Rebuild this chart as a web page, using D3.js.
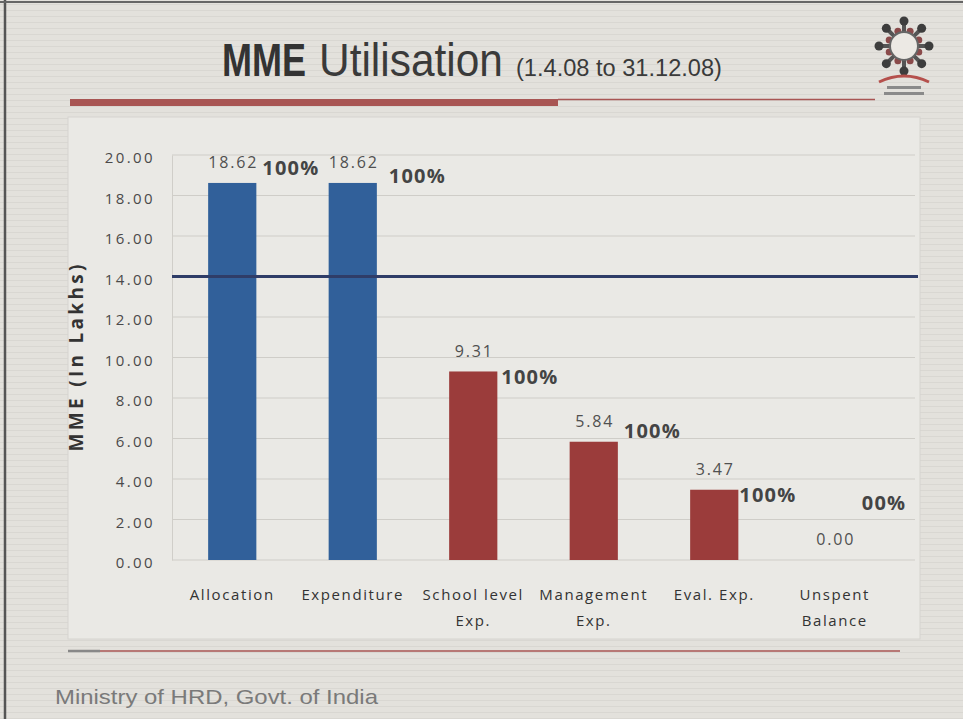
<!DOCTYPE html>
<html><head><meta charset="utf-8">
<script src="https://cdn.jsdelivr.net/npm/d3@7"></script>
<style>
body{margin:0;background:#e4e2dd;}
svg{display:block;}
</style></head>
<body>
<svg id="chart" width="963" height="719"></svg>
<script>
// ---- data ----
const categories = ["Allocation","Expenditure","School level Exp.","Management Exp.","Eval. Exp.","Unspent Balance"];
const categoryLines = [["Allocation"],["Expenditure"],["School level","Exp."],["Management","Exp."],["Eval. Exp."],["Unspent","Balance"]];
const values = [18.62, 18.62, 9.31, 5.84, 3.47, 0.00];
const pctLabels = ["100%","100%","100%","100%","100%","00%"];
const barGroup = ["budget","budget","spend","spend","spend","spend"];
const yTicks = [0,2,4,6,8,10,12,14,16,18,20];
const refLine = 14;
// manual nudges of the hand-placed % text boxes (px)
const pctNudgeX = [6,12,4,6,1,3];
const pctNudgeY = [-13,-5,7,-9,7,-55];

const W = 963, H = 719;
const svg = d3.select("#chart");

// background with scanline texture
const defs = svg.append("defs");
const pat = defs.append("pattern").attr("id","scan").attr("width",8).attr("height",6).attr("patternUnits","userSpaceOnUse");
pat.append("rect").attr("width",8).attr("height",6).attr("fill","#e3e1dc");
pat.append("rect").attr("y",4).attr("width",8).attr("height",1).attr("fill","#d9d7d2");
svg.append("rect").attr("width",W).attr("height",H).attr("fill","url(#scan)");
// slide borders
svg.append("line").attr("x1",5).attr("x2",5).attr("y1",0).attr("y2",H).attr("stroke","#555").attr("stroke-width",2.5);
svg.append("line").attr("x1",0).attr("x2",W).attr("y1",2).attr("y2",2).attr("stroke","#666").attr("stroke-width",2);

// chart panel
svg.append("rect").attr("x",68).attr("y",117).attr("width",852).attr("height",522)
  .attr("fill","#eae9e5").attr("stroke","#d6d4cf");

// title (condensed via horizontal scaling)
const tFont = "'Liberation Sans Narrow','Arial Narrow','Liberation Sans',Arial,sans-serif";
function condensed(txt, x0, w, size, weight, color){
  const t = svg.append("text").attr("x",0).attr("y",0).text(txt)
    .style("font-family",tFont).style("font-size",size+"px").style("font-weight",weight).attr("fill",color);
  const nat = t.node().getComputedTextLength();
  t.attr("transform",`translate(${x0},76) scale(${w/nat},1)`);
}
condensed("MME", 222, 84, 46, "bold", "#333");
condensed("Utilisation", 319, 184, 46, "normal", "#3a3a3a");
condensed("(1.4.08 to 31.12.08)", 516, 206, 23, "normal", "#3a3a3a");

// decorative lines
svg.append("rect").attr("x",70).attr("y",99).attr("width",488).attr("height",7).attr("fill","#a85553");
svg.append("line").attr("x1",558).attr("x2",875).attr("y1",99.5).attr("y2",99.5).attr("stroke","#a85553").attr("stroke-width",1.5);
svg.append("line").attr("x1",68).attr("x2",900).attr("y1",651).attr("y2",651).attr("stroke","#a85553").attr("stroke-width",1.5);
svg.append("line").attr("x1",68).attr("x2",100).attr("y1",651).attr("y2",651).attr("stroke","#888").attr("stroke-width",2.5);

// logo
const logo = svg.append("g").attr("transform","translate(904,46)");
d3.range(8).forEach(i=>{
  const a = i*Math.PI/4 - Math.PI/2;
  logo.append("line").attr("x1",Math.cos(a)*14).attr("y1",Math.sin(a)*14).attr("x2",Math.cos(a)*24).attr("y2",Math.sin(a)*24)
    .attr("stroke","#555").attr("stroke-width",4);
  logo.append("circle").attr("cx",Math.cos(a)*25).attr("cy",Math.sin(a)*25).attr("r",4.5).attr("fill","#3d3d3d");
  logo.append("circle").attr("cx",Math.cos(a+Math.PI/8)*16).attr("cy",Math.sin(a+Math.PI/8)*16).attr("r",3.5).attr("fill","#8a4a4a");
});
logo.append("circle").attr("r",14).attr("fill","#ece9e4").attr("stroke","#666").attr("stroke-width",2);
logo.append("path").attr("d","M-25,36 Q0,24 25,36").attr("stroke","#b5504c").attr("stroke-width",3).attr("fill","none");
logo.append("rect").attr("x",-17).attr("y",40).attr("width",34).attr("height",3).attr("fill","#8a8a8a");
logo.append("rect").attr("x",-20).attr("y",46).attr("width",40).attr("height",3).attr("fill","#8a8a8a");

// footer
svg.append("text").attr("x",55).attr("y",704).text("Ministry of HRD, Govt. of India")
  .style("font-family","'Liberation Sans',Arial,sans-serif").style("font-size","21px")
  .attr("textLength",323).attr("lengthAdjust","spacingAndGlyphs").attr("fill","#7a7a7a");

// scales
const x = d3.scaleBand().domain(categories).range([172,895]).paddingInner(0.6).paddingOuter(0.3);
const y = d3.scaleLinear().domain([0,20]).range([560,155]);
const font = "'Open Sans','DejaVu Sans',sans-serif";

// gridlines
svg.append("g").selectAll("line").data(yTicks).join("line")
  .attr("x1",172).attr("x2",915).attr("y1",d=>y(d)).attr("y2",d=>y(d))
  .attr("stroke","#cfcdc8").attr("stroke-width",1);

// y axis
const yAxis = svg.append("g").attr("transform","translate(172,0)")
  .call(d3.axisLeft(y).tickValues(yTicks).tickFormat(d3.format(".2f")).tickSize(0).tickPadding(17));
yAxis.select(".domain").attr("stroke","#d0cec9");
yAxis.selectAll("text").style("font-family",font).style("font-size","15px").style("letter-spacing","2.4px")
  .attr("fill","#4a4a4a").attr("dy","0.5em");

svg.append("text").attr("transform","translate(83,358) rotate(-90)").attr("text-anchor","middle")
  .text("MME (In Lakhs)").style("font-family",font).style("font-size","19px").style("font-weight","bold")
  .attr("textLength",187).attr("lengthAdjust","spacing").attr("fill","#333");

// bars
const colors = {budget:"#31609a", spend:"#9b3c3b"};
svg.append("g").selectAll("rect").data(values).join("rect")
  .attr("x",(d,i)=>x(categories[i])).attr("width",x.bandwidth())
  .attr("y",d=>y(d)).attr("height",d=>y(0)-y(d))
  .attr("fill",(d,i)=>colors[barGroup[i]]);

// reference line
svg.append("line").attr("x1",172).attr("x2",918).attr("y1",y(refLine)).attr("y2",y(refLine))
  .attr("stroke","#2f3d68").attr("stroke-width",3);

// value labels
svg.append("g").selectAll("text").data(values).join("text")
  .attr("x",(d,i)=>x(categories[i])+x.bandwidth()/2+1).attr("y",d=>y(d)-19)
  .attr("text-anchor","middle").attr("dominant-baseline","middle")
  .text(d=>d3.format(".2f")(d))
  .style("font-family",font).style("font-size","16px").style("letter-spacing","1.8px").attr("fill","#505050");

// percent labels
svg.append("g").selectAll("text").data(values).join("text")
  .attr("x",(d,i)=>x(categories[i])+x.bandwidth()+pctNudgeX[i]).attr("y",(d,i)=>y(d)+pctNudgeY[i])
  .attr("dominant-baseline","middle")
  .text((d,i)=>pctLabels[i])
  .style("font-family",font).style("font-size","20px").style("font-weight","bold").style("letter-spacing","1.2px").attr("fill","#444");

// x axis labels
const xAxis = svg.append("g").attr("transform","translate(0,560)")
  .call(d3.axisBottom(x).tickSize(0).tickFormat(""));
xAxis.select(".domain").remove();
xAxis.selectAll(".tick").each(function(d,i){
  const t = d3.select(this).append("text").attr("text-anchor","middle").attr("fill","#333")
    .style("font-family",font).style("font-size","15px").style("letter-spacing","1.6px");
  categoryLines[i].forEach((ln,j)=>t.append("tspan").attr("x",0).attr("y",40+j*26).text(ln));
});
</script>
</body></html>
